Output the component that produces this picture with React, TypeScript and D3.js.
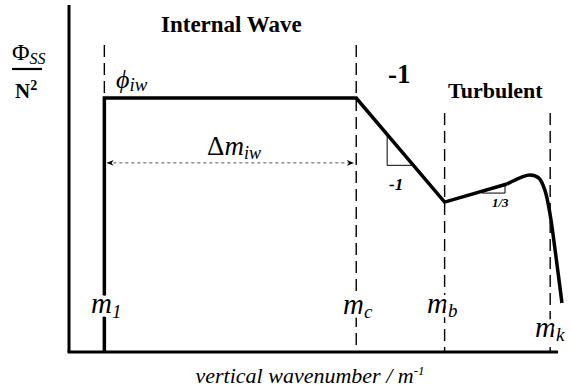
import React from 'react';
import * as d3 from 'd3';

// positions on a schematic log-wavenumber axis (0..100) and log-spectrum axis (0..100)
const markerNames = ['m1', 'mc', 'mb', 'mk'];
const markerX = [7.2, 58.5, 76.5, 98.0];
const markerTop = [88.5, 88.5, 68.9, 68.9];

const spectrumX = [7.2, 7.2, 58.5, 76.5, 89.2];
const spectrumY = [0, 73.2, 73.2, 43.2, 48.4];

const tailX = [89.2, 92.2, 93.9, 95.7, 96.9, 98.0, 99.0, 100.4];
const tailY = [48.4, 50.4, 51.0, 50.1, 46.7, 39.5, 29.4, 14.1];

const W = 571;
const H = 392;
const serif = "Liberation Serif, DejaVu Serif Condensed, DejaVu Serif, serif";

export default function App() {
  const x = d3.scaleLinear().domain([0, 100]).range([69, 560]);
  const y = d3.scaleLinear().domain([0, 100]).range([352, 5]);

  const line = d3.line<[number, number]>().x(d => x(d[0])).y(d => y(d[1]));
  const curve = d3.line<[number, number]>().x(d => x(d[0])).y(d => y(d[1])).curve(d3.curveCatmullRom.alpha(0.5));

  const main = spectrumX.map((v, i) => [v, spectrumY[i]] as [number, number]);
  const tail = tailX.map((v, i) => [v, tailY[i]] as [number, number]);

  const plateau = spectrumY[1];
  const arrowY = y(54.5);
  const halo = { paintOrder: 'stroke', stroke: '#fff', strokeWidth: 8, strokeLinejoin: 'round' } as React.CSSProperties;

  return (
    <svg width={W} height={H} style={{ position: 'absolute', left: 0, top: 0, background: '#fff' }}>
      <defs>
        <marker id="ah" viewBox="0 0 10 10" refX="9" refY="5" markerWidth="7" markerHeight="7" orient="auto-start-reverse">
          <path d="M0,1 L10,5 L0,9 L3,5 Z" fill="#000" />
        </marker>
      </defs>

      {/* axes */}
      <line x1={x(0)} x2={x(0)} y1={y(100)} y2={y(0)} stroke="#000" strokeWidth={3} />
      <line x1={x(0) - 1.5} x2={x(99.6)} y1={y(0)} y2={y(0)} stroke="#000" strokeWidth={3} />

      {/* dashed markers */}
      {markerX.map((mx, i) => (
        <line key={markerNames[i]} x1={x(mx)} x2={x(mx)} y1={y(markerTop[i])}
          y2={i === 0 ? y(plateau) - 5 : y(0)} stroke="#000" strokeWidth={1.4} strokeDasharray="12,6" />
      ))}

      {/* spectrum */}
      <path d={line(main) || ''} fill="none" stroke="#000" strokeWidth={3.5} strokeLinejoin="miter" />
      <path d={curve(tail) || ''} fill="none" stroke="#000" strokeWidth={3.5} strokeLinecap="butt" />

      {/* delta m arrow */}
      <line x1={x(7.2) + 3} x2={x(58.5) - 3} y1={arrowY} y2={arrowY} stroke="#555" strokeWidth={1}
        strokeDasharray="3,3" markerStart="url(#ah)" markerEnd="url(#ah)" />

      {/* slope triangles */}
      <path d={`M${x(64.8)},${y(62.8)} V${y(53.8)} H${x(69.8)}`} fill="none" stroke="#000" strokeWidth={1} />
      <path d={`M${x(84.1)},${y(45.8)} H${x(88.8)} V${y(48.2)}`} fill="none" stroke="#000" strokeWidth={1} />

      <g fill="#000" fontFamily={serif}>
        <text x={161} y={32} fontSize={23} fontWeight="bold">Internal Wave</text>
        <text x={448} y={98} fontSize={22} fontWeight="bold">Turbulent</text>
        <text x={388} y={83} fontSize={27} fontWeight="bold">-1</text>
        <text x={389} y={190} fontSize={17} fontWeight="bold" fontStyle="italic">-1</text>
        <text x={492} y={207} fontSize={13} fontWeight="bold" fontStyle="italic">1/3</text>

        <text x={12} y={60} fontSize={24}>Φ<tspan fontSize={16} fontStyle="italic" dy={4}>SS</tspan></text>
        <line x1={12} x2={42} y1={69} y2={69} stroke="#000" strokeWidth={2.2} />
        <text x={15} y={98} fontSize={21} fontWeight="bold">N<tspan fontSize={14} dy={-8}>2</tspan></text>

        <text x={116} y={88} fontSize={26} fontStyle="italic">ϕ<tspan fontSize={19} dy={3}>iw</tspan></text>
        <text x={207} y={155} fontSize={27}>Δ<tspan fontStyle="italic">m</tspan><tspan fontSize={18} fontStyle="italic" dy={4}>iw</tspan></text>

        <text x={91} y={313} fontSize={29} fontStyle="italic" style={halo}>m<tspan fontSize={19} dy={5}>1</tspan></text>
        <text x={343} y={314} fontSize={29} fontStyle="italic" style={halo}>m<tspan fontSize={19} dy={4}>c</tspan></text>
        <text x={427} y={313} fontSize={29} fontStyle="italic" style={halo}>m<tspan fontSize={19} dy={4}>b</tspan></text>
        <text x={535} y={337} fontSize={29} fontStyle="italic" style={halo}>m<tspan fontSize={19} dy={4}>k</tspan></text>

        <text x={310} y={383} fontSize={22} fontStyle="italic" textAnchor="middle">vertical wavenumber / m<tspan fontSize={13} dy={-8}>-1</tspan></text>
      </g>
    </svg>
  );
}
